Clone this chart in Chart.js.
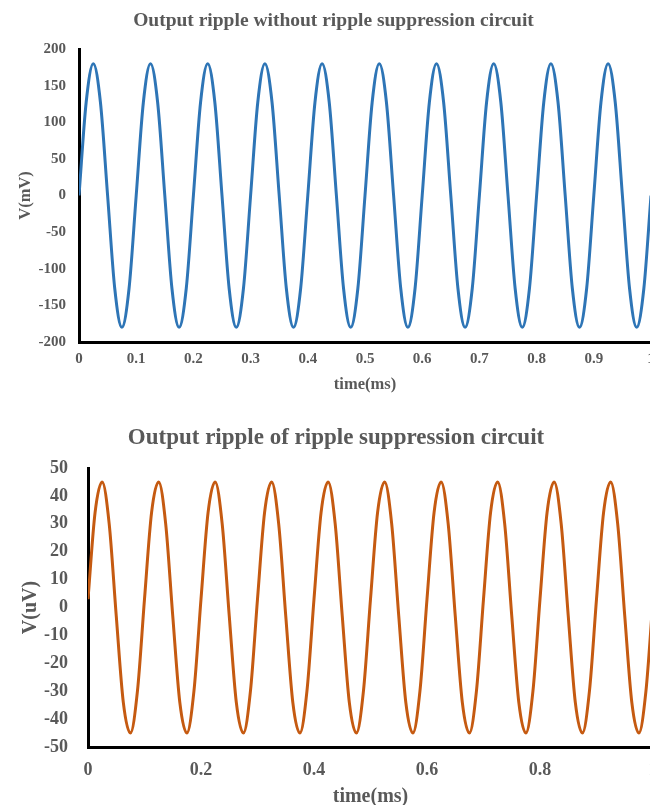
<!DOCTYPE html>
<html>
<head>
<meta charset="utf-8">
<script src="https://cdn.jsdelivr.net/npm/chart.js@4/dist/chart.umd.min.js"></script>
<style>
  html, body { margin: 0; padding: 0; background: #fff; overflow: hidden; width: 650px; height: 805px; }
  canvas { display: block; }
</style>
</head>
<body>
<canvas id="rippleTop" width="660" height="400"></canvas>
<canvas id="rippleBottom" width="660" height="410"></canvas>
<script>
// temps (ms), un point tous les 1/8 de période
const timeMs = [
  0, 0.0125, 0.025, 0.0375, 0.05, 0.0625, 0.075, 0.0875,
  0.1, 0.1125, 0.125, 0.1375, 0.15, 0.1625, 0.175, 0.1875,
  0.2, 0.2125, 0.225, 0.2375, 0.25, 0.2625, 0.275, 0.2875,
  0.3, 0.3125, 0.325, 0.3375, 0.35, 0.3625, 0.375, 0.3875,
  0.4, 0.4125, 0.425, 0.4375, 0.45, 0.4625, 0.475, 0.4875,
  0.5, 0.5125, 0.525, 0.5375, 0.55, 0.5625, 0.575, 0.5875,
  0.6, 0.6125, 0.625, 0.6375, 0.65, 0.6625, 0.675, 0.6875,
  0.7, 0.7125, 0.725, 0.7375, 0.75, 0.7625, 0.775, 0.7875,
  0.8, 0.8125, 0.825, 0.8375, 0.85, 0.8625, 0.875, 0.8875,
  0.9, 0.9125, 0.925, 0.9375, 0.95, 0.9625, 0.975, 0.9875,
  1
];

// ondulation sans circuit de suppression (mV)
const rippleNoFilter = [
  0, 127, 180, 127, 0, -127, -180, -127,
  0, 127, 180, 127, 0, -127, -180, -127,
  0, 127, 180, 127, 0, -127, -180, -127,
  0, 127, 180, 127, 0, -127, -180, -127,
  0, 127, 180, 127, 0, -127, -180, -127,
  0, 127, 180, 127, 0, -127, -180, -127,
  0, 127, 180, 127, 0, -127, -180, -127,
  0, 127, 180, 127, 0, -127, -180, -127,
  0, 127, 180, 127, 0, -127, -180, -127,
  0, 127, 180, 127, 0, -127, -180, -127,
  0
];

// ondulation avec circuit de suppression (uV)
const rippleFiltered = [
  3, 34, 45, 30, -3, -34, -45, -30,
  3, 34, 45, 30, -3, -34, -45, -30,
  3, 34, 45, 30, -3, -34, -45, -30,
  3, 34, 45, 30, -3, -34, -45, -30,
  3, 34, 45, 30, -3, -34, -45, -30,
  3, 34, 45, 30, -3, -34, -45, -30,
  3, 34, 45, 30, -3, -34, -45, -30,
  3, 34, 45, 30, -3, -34, -45, -30,
  3, 34, 45, 30, -3, -34, -45, -30,
  3, 34, 45, 30, -3, -34, -45, -30,
  3
];

const greyText = '#595959';
const serif = "'Liberation Serif', 'Times New Roman', serif";

function makeRippleChart(canvasId, cfg) {
  const points = timeMs.map((t, i) => ({ x: t, y: cfg.values[i] }));
  return new Chart(document.getElementById(canvasId), {
    type: 'line',
    data: {
      datasets: [{
        data: points,
        borderColor: cfg.color,
        borderWidth: 3,
        pointRadius: 0,
        fill: false,
        cubicInterpolationMode: 'monotone'
      }]
    },
    options: {
      responsive: false,
      animation: false,
      layout: { padding: { left: cfg.padLeft, right: cfg.padRight, top: 0, bottom: 0 } },
      plugins: {
        legend: { display: false },
        tooltip: { enabled: false },
        title: {
          display: true,
          text: cfg.title,
          color: greyText,
          font: { family: serif, size: cfg.titleSize, weight: 'bold' },
          padding: { top: cfg.titleTop, bottom: cfg.titleBottom }
        }
      },
      scales: {
        x: {
          type: 'linear',
          min: 0,
          max: 1,
          grid: { display: false, drawTicks: false },
          border: { display: true, color: '#000', width: 3 },
          ticks: {
            stepSize: cfg.xStep,
            color: greyText,
            padding: cfg.xTickPad,
            maxRotation: 0,
            autoSkip: false,
            font: { family: serif, size: cfg.tickSize, weight: 'bold' },
            callback: v => String(+v.toFixed(2))
          },
          title: {
            display: true,
            text: 'time(ms)',
            color: greyText,
            font: { family: serif, size: cfg.axisTitleSize, weight: 'bold' },
            padding: { top: 0, bottom: cfg.xTitleBottom }
          },
          afterFit: s => {
            s.height = cfg.xHeight;
            s.paddingLeft = 0;
            s.paddingRight = 0;
          }
        },
        y: {
          min: cfg.yMin,
          max: cfg.yMax,
          grid: { display: false, drawTicks: false },
          border: { display: true, color: '#000', width: 3 },
          ticks: {
            stepSize: cfg.yStep,
            color: greyText,
            padding: cfg.yTickPad,
            font: { family: serif, size: cfg.tickSize, weight: 'bold' }
          },
          title: {
            display: true,
            text: cfg.yLabel,
            color: greyText,
            font: { family: serif, size: cfg.axisTitleSize, weight: 'bold' },
            padding: { top: cfg.yTitleTop, bottom: 0 }
          },
          afterFit: s => { s.width = cfg.yWidth; }
        }
      }
    }
  });
}

makeRippleChart('rippleTop', {
  values: rippleNoFilter,
  color: '#2E75B6',
  title: 'Output ripple without ripple suppression circuit',
  titleSize: 19.5, titleTop: 9, titleBottom: 16.6,
  tickSize: 15, axisTitleSize: 16.5,
  xStep: 0.1, yMin: -200, yMax: 200, yStep: 50,
  yLabel: 'V(mV)',
  padLeft: 16, padRight: 9, xHeight: 58, yWidth: 63,
  xTickPad: 8, yTickPad: 13, xTitleBottom: 5.5, yTitleTop: 0
});

makeRippleChart('rippleBottom', {
  values: rippleFiltered,
  color: '#C55A11',
  title: 'Output ripple of ripple suppression circuit',
  titleSize: 23, titleTop: 24, titleBottom: 16.4,
  tickSize: 18, axisTitleSize: 20,
  xStep: 0.2, yMin: -50, yMax: 50, yStep: 10,
  yLabel: 'V(uV)',
  padLeft: 19, padRight: 7, xHeight: 63, yWidth: 69,
  xTickPad: 12.5, yTickPad: 20, xTitleBottom: 1.5, yTitleTop: 0
});
</script>
</body>
</html>
